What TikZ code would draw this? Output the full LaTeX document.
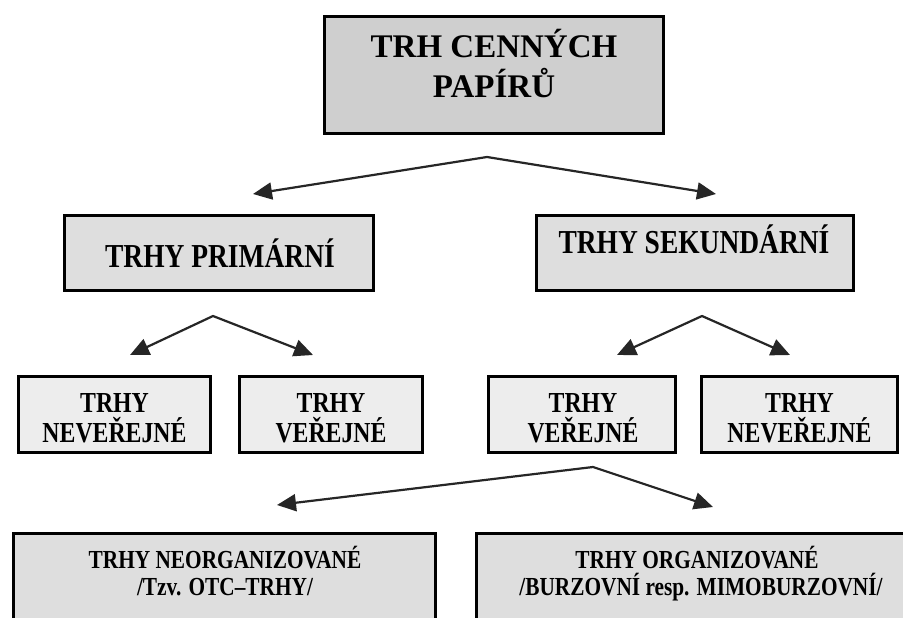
\documentclass[tikz,border=0pt]{standalone}
\usepackage{fontspec}
\setmainfont{Liberation Serif}
\newfontfamily\cfont{Liberation Serif}[FakeStretch=0.82]
\usetikzlibrary{arrows.meta}
\definecolor{filltop}{gray}{0.81}
\definecolor{fillmid}{gray}{0.87}
\definecolor{fillsub}{gray}{0.93}
\definecolor{fillbot}{gray}{0.87}
\tikzset{
  box/.style={draw=black, line width=3pt, inner sep=0pt},
  lbl/.style={anchor=base, inner sep=0pt, font=\cfont\bfseries},
  toplbl/.style={anchor=base, inner sep=0pt, font=\bfseries\fontsize{33}{40}\selectfont},
  midlbl/.style={lbl, font=\cfont\bfseries\fontsize{33.5}{38}\selectfont},
  sublbl/.style={lbl, font=\cfont\bfseries\fontsize{29}{30}\selectfont},
  botlbl/.style={lbl, font=\cfont\bfseries\fontsize{26}{27}\selectfont},
  arr/.style={draw=black!85, line width=2.2pt, line join=round,
    {Triangle[length=19pt,width=17pt]}-{Triangle[length=19pt,width=17pt]}}
}
\begin{document}
\begin{tikzpicture}[x=1pt,y=-1pt]
\clip (0,0) rectangle (903,618);
\fill[white] (0,0) rectangle (903,618);
% top box
\node[box, fill=filltop, minimum width=339pt, minimum height=117pt] (top) at (494,75) {};
\node[toplbl] (topa) at (494,58) {TRH CENNÝCH};
\node[toplbl] (topb) at (494,98) {PAPÍRŮ};
% second row
\node[box, fill=fillmid, minimum width=309pt, minimum height=75pt] (prim) at (219,253) {};
\node[midlbl] (primt) at (220,267) {TRHY PRIMÁRNÍ};
\node[box, fill=fillmid, minimum width=317pt, minimum height=75pt] (sek) at (695,253) {};
\node[midlbl] (sekt) at (694,253) {TRHY SEKUNDÁRNÍ};
% third row
\node[box, fill=fillsub, minimum width=192pt, minimum height=76pt] (pn) at (114.5,414) {};
\node[sublbl] (pna) at (114.5,412) {TRHY};
\node[sublbl] (pnb) at (114.5,442) {NEVEŘEJNÉ};
\node[box, fill=fillsub, minimum width=183pt, minimum height=76pt] (pv) at (331,414) {};
\node[sublbl] (pva) at (331,412) {TRHY};
\node[sublbl] (pvb) at (331,442) {VEŘEJNÉ};
\node[box, fill=fillsub, minimum width=187pt, minimum height=76pt] (sv) at (582,414) {};
\node[sublbl] (sva) at (583,412) {TRHY};
\node[sublbl] (svb) at (583,442) {VEŘEJNÉ};
\node[box, fill=fillsub, minimum width=196pt, minimum height=76pt] (sn) at (799.5,414) {};
\node[sublbl] (sna) at (799.5,412) {TRHY};
\node[sublbl] (snb) at (799.5,442) {NEVEŘEJNÉ};
% bottom row
\node[box, fill=fillbot, minimum width=422pt, minimum height=107pt] (neo) at (224.5,587) {};
\node[botlbl] (neoa) at (225,568) {TRHY NEORGANIZOVANÉ};
\node[botlbl] (neob) at (225,595) {/Tzv. OTC–TRHY/};
\node[box, fill=fillbot, minimum width=450pt, minimum height=107pt] (org) at (701.5,587) {};
\node[botlbl] (orga) at (697,568) {TRHY ORGANIZOVANÉ};
\node[botlbl] (orgb) at (701,595) {/BURZOVNÍ resp. MIMOBURZOVNÍ/};
% arrow coordinates
\coordinate (ap1) at (487,157);
\coordinate (t1l) at (253,194);
\coordinate (t1r) at (716,194);
\coordinate (ap2) at (213,316);
\coordinate (t2l) at (130,355);
\coordinate (t2r) at (313,355);
\coordinate (ap3) at (702,316);
\coordinate (t3l) at (617,355);
\coordinate (t3r) at (790,355);
\coordinate (ap4) at (593,467);
\coordinate (t4l) at (277,505);
\coordinate (t4r) at (713,507);
\draw[arr] (t1l) -- (ap1) -- (t1r);
\draw[arr] (t2l) -- (ap2) -- (t2r);
\draw[arr] (t3l) -- (ap3) -- (t3r);
\draw[arr] (t4l) -- (ap4) -- (t4r);
\end{tikzpicture}
\end{document}
